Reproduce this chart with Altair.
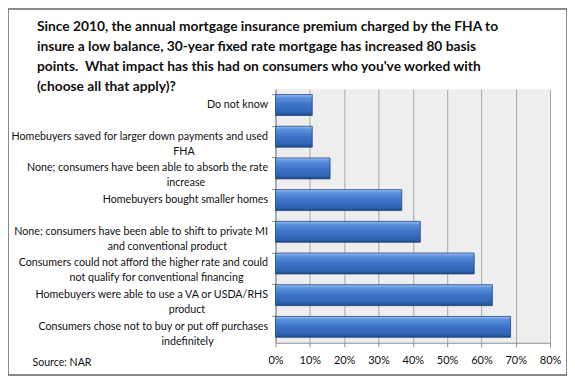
import altair as alt
import pandas as pd

line1 = [
    "Do not know",
    "Homebuyers saved for larger down payments and used",
    "None; consumers have been able to absorb the rate",
    "Homebuyers bought smaller homes",
    "None; consumers have been able to shift to private MI",
    "Consumers could not afford the higher rate and could",
    "Homebuyers were able to use a VA or USDA/RHS",
    "Consumers chose not to buy or put off purchases",
]
line2 = [
    "",
    "FHA",
    "increase",
    "",
    "and conventional product",
    "not qualify for conventional financing",
    "product",
    "indefinitely",
]
values = [10.7, 10.7, 15.9, 36.8, 42.2, 57.9, 63.2, 68.5]
x_ticks = [0, 10, 20, 30, 40, 50, 60, 70, 80]

title_lines = [
    "Since 2010, the annual mortgage insurance premium charged by the FHA to",
    "insure a low balance, 30-year fixed rate mortgage has increased 80 basis",
    "points.\u00a0 What impact has this had on consumers who you've worked with",
    "(choose all that apply)?",
]
source_text = "Source: NAR"

FONT = "Lato"
LABEL_SIZE = 10.7

# rough Lato advance widths (em) used only to centre the second label line
_W = {
    "a": .49, "b": .55, "c": .45, "d": .55, "e": .51, "f": .32, "g": .49, "h": .54,
    "i": .24, "j": .24, "k": .49, "l": .24, "m": .81, "n": .54, "o": .55, "p": .54,
    "q": .55, "r": .36, "s": .42, "t": .34, "u": .54, "v": .49, "w": .75, "x": .48,
    "y": .49, "z": .44, " ": .19, ";": .25, "/": .37, ".": .24,
    "A": .68, "C": .66, "D": .74, "F": .54, "H": .75, "I": .29, "M": .9, "N": .75,
    "R": .62, "S": .52, "U": .72, "V": .68,
}
NBSP = "\u00a0"
NBSP_EM = 0.39
JOINER = "\u2060"


def _width(s):
    return sum(_W.get(ch, .55) for ch in s)


def centred(a, b):
    if not b:
        return a
    pad = (_width(a) - _width(b)) / 2 / NBSP_EM
    return a + "\n" + b + NBSP * max(0, round(pad)) + JOINER


categories = [centred(a, b) for a, b in zip(line1, line2)]

df = pd.DataFrame({"category": categories, "value": [v / 100 for v in values]})

grad = alt.Gradient(
    gradient="linear",
    x1=0, y1=0, x2=0, y2=1,
    stops=[
        alt.GradientStop(color="#9cc2f2", offset=0),
        alt.GradientStop(color="#5b91dc", offset=0.15),
        alt.GradientStop(color="#3d74c9", offset=0.5),
        alt.GradientStop(color="#2f63b3", offset=0.85),
        alt.GradientStop(color="#1f4884", offset=1),
    ],
)

x_scale = alt.Scale(domain=[0, 0.8], nice=False)
y_scale = alt.Scale(paddingInner=0.34, paddingOuter=0.17)

x_enc = alt.X(
    "value:Q",
    scale=x_scale,
    axis=alt.Axis(
        values=[t / 100 for t in x_ticks],
        format=".0%",
        labelFont=FONT,
        labelFontSize=11,
        labelColor="#111111",
        labelPadding=8,
        labelOverlap=False,
        labelFlush=False,
        tickSize=4,
        tickColor="#8c8c8c",
        domainColor="#8c8c8c",
        grid=True,
        gridColor="#a8a8a8",
        title=source_text,
        titleFont=FONT,
        titleFontSize=10.6,
        titleFontWeight="normal",
        titleColor="#111111",
        titleAlign="left",
        titleAnchor="start",
        titleBaseline="alphabetic",
        titleX=-244,
        titleY=23,
    ),
)

bars = alt.Chart(df).mark_bar(
    fill=grad, stroke="#234a86", strokeWidth=0.8
).encode(
    x=x_enc,
    y=alt.Y(
        "category:N",
        sort=categories,
        scale=y_scale,
        axis=alt.Axis(
            title=None,
            orient="left",
            labelExpr="split(datum.label, '\\n')",
            labelFont=FONT,
            labelFontSize=LABEL_SIZE,
            labelColor="#111111",
            labelLineHeight=15,
            labelPadding=8,
            labelLimit=320,
            ticks=False,
            domainColor="#8c8c8c",
            grid=False,
        ),
    ),
)

ticks_layer = alt.Chart(df).mark_bar(opacity=0).encode(
    x=x_enc,
    y=alt.Y(
        "category:N",
        sort=categories,
        scale=y_scale,
        axis=alt.Axis(
            title=None, orient="left", labels=False, domain=False, grid=False,
            ticks=True, tickSize=4, tickColor="#8c8c8c", bandPosition=0,
        ),
    ),
)

frame = alt.Chart(df).mark_rect(
    fill=None, stroke="#8a8a8a", strokeWidth=1, clip=False
).encode(
    x=alt.value(-267.5), x2=alt.value(291.5),
    y=alt.value(-80.5), y2=alt.value(286.5),
)

chart = alt.layer(bars, ticks_layer, frame).resolve_axis(y="independent").properties(
    width=275,
    height=254,
    autosize=alt.AutoSizeParams(type="none"),
    padding={"left": 268, "top": 81, "right": 17, "bottom": 33},
    background="white",
    title=alt.TitleParams(
        text=title_lines,
        font=FONT,
        fontSize=13.8,
        fontWeight="bold",
        color="#111111",
        anchor="start",
        frame="group",
        baseline="top",
        lineHeight=20,
        offset=0,
        dx=-239,
        dy=86,
    ),
).configure_view(fill="#eeeeee", stroke=None)

chart.save("out.html", embed_options={"renderer": "svg", "actions": False})
